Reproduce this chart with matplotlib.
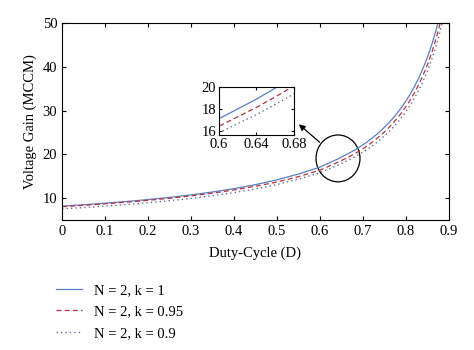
import matplotlib
matplotlib.use("Agg")
import matplotlib.pyplot as plt
from matplotlib.patches import Ellipse

plt.rcParams['font.family'] = ['Liberation Serif', 'DejaVu Serif']

# duty cycle values and voltage gain readings for each curve
duty = [0, 0.05, 0.1, 0.15, 0.2, 0.25, 0.3, 0.35, 0.4, 0.45, 0.5, 0.55, 0.6,
        0.62, 0.64, 0.66, 0.68,
        0.7, 0.71, 0.72, 0.73, 0.74, 0.75, 0.76, 0.77, 0.78, 0.79, 0.8,
        0.81, 0.82, 0.83, 0.84, 0.85,
        0.855, 0.86, 0.865, 0.87, 0.875, 0.88, 0.885, 0.89]
gain_k1 = [8.2, 8.52, 8.87, 9.26, 9.7, 10.2, 10.77, 11.43, 12.2, 13.11, 14.2, 15.53, 17.1,
           18.0, 18.9, 19.9, 20.95,
           22.2, 22.89, 23.63, 24.42, 25.28, 26.2, 27.2, 28.29, 29.47, 30.77, 32.2,
           33.78, 35.53, 37.49, 39.7, 42.2,
           43.58, 45.06, 46.64, 48.35, 50.2, 52.2, 54.37, 56.75]
gain_k095 = [8.08, 8.39, 8.73, 9.11, 9.53, 10.0, 10.54, 11.16, 11.9, 12.75, 13.7, 14.94, 16.42,
             17.28, 18.14, 19.1, 20.11,
             21.31, 21.97, 22.68, 23.44, 24.27, 25.15, 26.11, 27.16, 28.29, 29.54, 30.91,
             32.43, 34.11, 35.99, 38.11, 40.51,
             41.84, 43.26, 44.77, 46.42, 48.19, 50.11, 52.2, 54.48]
gain_k09 = [7.59, 7.88, 8.2, 8.57, 8.97, 9.44, 9.96, 10.57, 11.29, 12.13, 13.14, 14.37, 15.82,
            16.65, 17.48, 18.41, 19.38,
            20.54, 21.17, 21.86, 22.59, 23.38, 24.24, 25.16, 26.17, 27.26, 28.46, 29.79,
            31.25, 32.87, 34.68, 36.72, 39.04,
            40.31, 41.68, 43.14, 44.72, 46.44, 48.29, 50.29, 52.49]
labels = ['N = 2, k = 1', 'N = 2, k = 0.95', 'N = 2, k = 0.9']

c_blue = '#5b7fc4'
c_red = '#b8323c'
c_dot = '#6c6a98'

fig = plt.figure(figsize=(4.74, 3.5), dpi=100)
ax = fig.add_axes([0.131, 0.371, 0.816, 0.563])

h1, = ax.plot(duty, gain_k1, '-', color=c_blue, lw=0.9)
h2, = ax.plot(duty, gain_k095, '--', color=c_red, lw=0.9, dashes=(4, 2.5))
h3, = ax.plot(duty, gain_k09, ':', color=c_dot, lw=1.0, dashes=(1, 2.2))

ax.set_xlim(0, 0.9)
ax.set_ylim(5, 50)
ax.set_xticks([0, 0.1, 0.2, 0.3, 0.4, 0.5, 0.6, 0.7, 0.8, 0.9])
ax.set_xticklabels(['0', '0.1', '0.2', '0.3', '0.4', '0.5', '0.6', '0.7', '0.8', '0.9'])
ax.set_yticks([10, 20, 30, 40, 50])
ax.tick_params(direction='in', top=True, right=True, labelsize=10.5, length=3, width=0.8)
for s in ax.spines.values():
    s.set_linewidth(0.8)
ax.set_xlabel('Duty-Cycle (D)', fontsize=10.5, labelpad=6)
ax.set_ylabel('Voltage Gain (MCCM)', fontsize=10.5, labelpad=4)

# zoom circle and arrow
ax.add_patch(Ellipse((0.642, 19.1), 0.1023, 10.7, fill=False, ec='black', lw=0.9))
ax.annotate('', xy=(0.546, 27.3), xytext=(0.604, 22.4),
            arrowprops=dict(arrowstyle='-|>', color='black', lw=0.9, mutation_scale=9))

# inset
axi = fig.add_axes([0.462, 0.614, 0.158, 0.137])
axi.plot(duty, gain_k1, '-', color=c_blue, lw=0.9)
axi.plot(duty, gain_k095, '--', color=c_red, lw=0.9, dashes=(4, 2.5))
axi.plot(duty, gain_k09, ':', color=c_dot, lw=1.0, dashes=(1, 2.2))
axi.set_xlim(0.6, 0.68)
axi.set_ylim(15.6, 20)
axi.set_xticks([0.6, 0.64, 0.68])
axi.set_xticklabels(['0.6', '0.64', '0.68'])
axi.set_yticks([16, 18, 20])
axi.tick_params(direction='in', top=True, right=True, labelsize=10.5, length=2.5, width=0.8, pad=2)
for s in axi.spines.values():
    s.set_linewidth(0.8)

fig.legend([h1, h2, h3], labels, loc='upper left', bbox_to_anchor=(0.105, 0.205),
           frameon=False, fontsize=10.5, handlelength=1.8, handletextpad=0.8,
           labelspacing=0.55, borderaxespad=0)

fig.savefig('out.png', dpi=100)
